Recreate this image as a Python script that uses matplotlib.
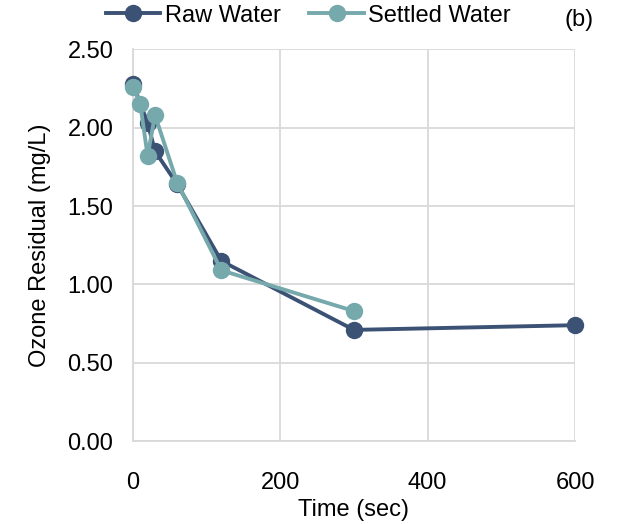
import matplotlib.pyplot as plt

plt.rcParams['font.family'] = ['Liberation Sans', 'DejaVu Sans']

# Ozone residual decay over time
raw_time = [0, 20, 30, 60, 120, 300, 600]
raw_residual = [2.28, 2.03, 1.85, 1.64, 1.15, 0.71, 0.74]

settled_time = [0, 10, 20, 30, 60, 120, 300]
settled_residual = [2.26, 2.15, 1.82, 2.08, 1.65, 1.09, 0.83]

x_ticks = [0, 200, 400, 600]
y_ticks = [0.0, 0.5, 1.0, 1.5, 2.0, 2.5]

raw_color = "#3C5275"
settled_color = "#76A9AC"

fig = plt.figure(figsize=(6.21, 5.24), dpi=100)
ax = fig.add_axes([0.214, 0.158, 0.712, 0.748])

ax.plot(raw_time, raw_residual, color=raw_color, lw=2.8, marker="o",
        ms=11.5, label="Raw Water", zorder=3, clip_on=False)
ax.plot(settled_time, settled_residual, color=settled_color, lw=2.8, marker="o",
        ms=11.5, label="Settled Water", zorder=4, clip_on=False)

ax.set_xlim(0, 600)
ax.set_ylim(0, 2.5)
ax.set_xticks(x_ticks)
ax.set_yticks(y_ticks)
ax.set_yticklabels([f"{v:.2f}" for v in y_ticks])
ax.tick_params(labelsize=17, length=0)
ax.tick_params(axis="x", pad=22)
ax.tick_params(axis="y", pad=14)
ax.grid(True, color="#D9D9D9", lw=1.3)
ax.set_axisbelow(True)
for side in ["top", "right"]:
    ax.spines[side].set_visible(False)
for side in ["left", "bottom"]:
    ax.spines[side].set_color("#D9D9D9")
    ax.spines[side].set_linewidth(1.3)

ax.set_xlabel("Time (sec)", fontsize=17, labelpad=4)
ax.set_ylabel("Ozone Residual (mg/L)", fontsize=17, labelpad=12)

ax.legend(loc="center", bbox_to_anchor=(0.497, 0.97), bbox_transform=fig.transFigure,
          ncol=2, frameon=False, fontsize=17, handlelength=2.3, columnspacing=1.2,
          handletextpad=0.2, borderaxespad=0, borderpad=0)
fig.text(0.932, 0.962, "(b)", fontsize=17, ha="center", va="center")

fig.savefig("out.png", dpi=100)
